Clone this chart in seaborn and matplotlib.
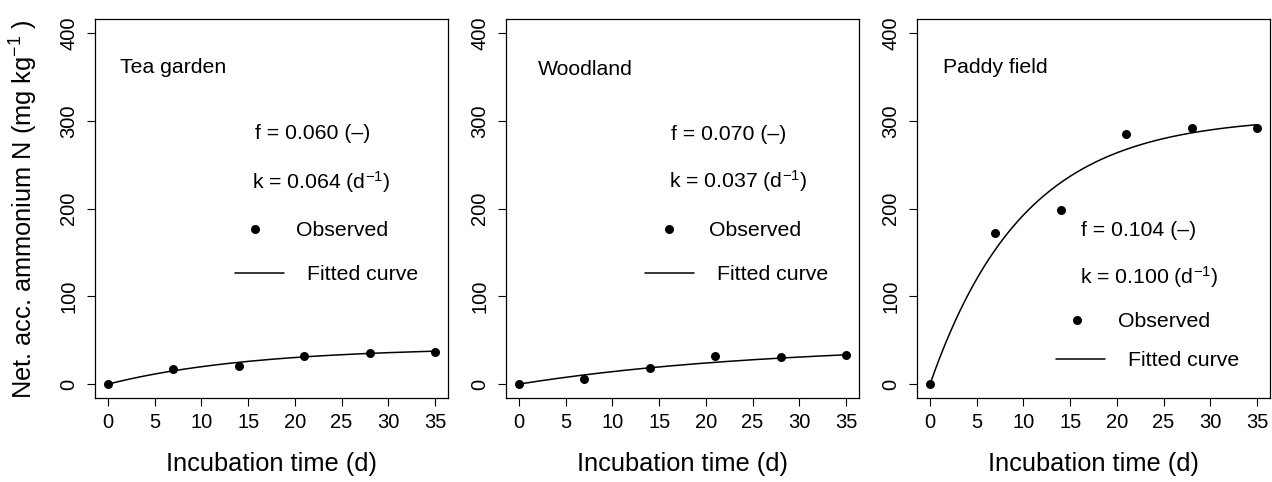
"""
Net accumulated ammonium N during incubation, three land uses
"""
import numpy as np
import pandas as pd
import matplotlib
matplotlib.use('Agg')
import matplotlib.pyplot as plt
import seaborn as sns
from matplotlib.lines import Line2D

# data
days = [0, 7, 14, 21, 28, 35]
tea_obs = [0, 16.7, 21.2, 31.5, 36.0, 36.2]
wood_obs = [0, 6.0, 17.8, 31.5, 30.4, 32.7]
paddy_obs = [0, 172, 198, 284.7, 291.9, 292]
sites = ['Tea garden', 'Woodland', 'Paddy field']
f_vals = ['0.060', '0.070', '0.104']
k_vals = [0.064, 0.037, 0.100]
n_max = [42, 46, 305]   # asymptote of the fitted curve

sns.set_style('ticks')
plt.rcParams['font.family'] = ['Liberation Sans', 'DejaVu Sans']
plt.rcParams['mathtext.fontset'] = 'custom'
plt.rcParams['mathtext.rm'] = 'Liberation Sans'
plt.rcParams['mathtext.it'] = 'Liberation Sans:italic'
for key in ['text.color', 'axes.labelcolor', 'xtick.color', 'ytick.color',
            'axes.edgecolor']:
    plt.rcParams[key] = 'black'

df = pd.DataFrame({
    'site': np.repeat(sites, len(days)),
    'day': days * 3,
    'nh4': tea_obs + wood_obs + paddy_obs,
})

# layout (figure fraction / data coords)
rects = [[0.0747, 0.174, 0.2775, 0.786],
         [0.3978, 0.174, 0.2775, 0.786],
         [0.7209, 0.174, 0.2775, 0.786]]
name_pos = [(1.3, 361), (2.0, 359), (1.4, 361)]
f_pos = [(15.7, 285.5), (16.3, 285), (16.2, 175)]
k_pos = [(15.4, 230), (16.1, 231), (16.1, 122)]
obs_leg = [(13.1, 175), (13.4, 175), (13.1, 71)]
fit_leg = [(13.6, 125), (13.5, 125), (13.5, 26.5)]
fs = 15.3

fig = plt.figure(figsize=(12.72, 4.82), dpi=100)
t = np.linspace(0, 35, 200)

for i, site in enumerate(sites):
    ax = fig.add_axes(rects[i])
    sub = df[df['site'] == site]
    curve = n_max[i] * (1 - np.exp(-k_vals[i] * t))
    sns.lineplot(x=t, y=curve, color='black', linewidth=1.1, ax=ax)
    sns.scatterplot(data=sub, x='day', y='nh4', color='black', s=42,
                    linewidth=0, ax=ax, zorder=3)

    ax.set_xlim(-1.4, 36.4)
    ax.set_ylim(-16, 416)
    ax.set_xticks(range(0, 36, 5))
    ax.set_yticks(range(0, 401, 100))
    ax.tick_params(axis='both', direction='out', length=6, width=0.8,
                   labelsize=14.5, pad=5, color='black')
    ax.tick_params(axis='y', labelrotation=90, pad=6)
    for lab in ax.get_yticklabels():
        lab.set_va('center')
    for sp in ax.spines.values():
        sp.set_visible(True)
        sp.set_linewidth(0.9)
        sp.set_color('black')

    ax.set_xlabel('Incubation time (d)', fontsize=18.3, labelpad=14)
    if i == 0:
        ax.set_ylabel('Net. acc. ammonium N (mg kg$^{-1}$ )', fontsize=18.3,
                      labelpad=14)
    else:
        ax.set_ylabel('')

    ax.text(*name_pos[i], site, fontsize=fs, ha='left', va='center')
    ax.text(*f_pos[i], f'f = {f_vals[i]} (–)', fontsize=fs, ha='left', va='center')
    ax.text(*k_pos[i], f'k = {k_vals[i]:.3f} (d$^{{-1}}$)', fontsize=fs,
            ha='left', va='center')

    # legend keys, drawn as two separate legends like the original
    h_obs = Line2D([], [], marker='o', color='black', linestyle='none',
                   markersize=6.5, markeredgewidth=0)
    h_fit = Line2D([], [], color='black', linewidth=1.1)
    leg1 = ax.legend([h_obs], ['Observed'], loc='center left',
                     bbox_to_anchor=obs_leg[i], bbox_transform=ax.transData,
                     frameon=False, fontsize=fs, handlelength=2.3,
                     handletextpad=0.77, borderpad=0, borderaxespad=0)
    ax.add_artist(leg1)
    ax.legend([h_fit], ['Fitted curve'], loc='center left',
              bbox_to_anchor=fit_leg[i], bbox_transform=ax.transData,
              frameon=False, fontsize=fs, handlelength=2.3,
              handletextpad=1.1, borderpad=0, borderaxespad=0)

plt.savefig('out.png', dpi=100)
plt.close()
